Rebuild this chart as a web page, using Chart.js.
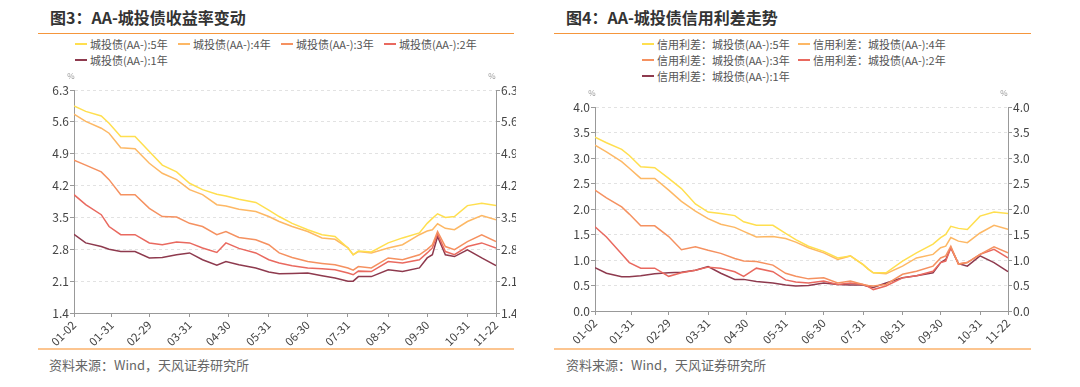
<!DOCTYPE html>
<html>
<head>
<meta charset="utf-8">
<script src="https://cdn.jsdelivr.net/npm/chart.js@4/dist/chart.umd.min.js"></script>
<style>
    body {margin: 0; width: 1080px; height: 387px; background: #fff; position: relative; overflow: hidden;
        font-family: "Noto Sans CJK SC", "Noto Sans", sans-serif;}
    .title {position: absolute; top: 6px; font-size: 16px; font-weight: bold; color: #333; line-height: 22px; white-space: nowrap;}
    .rule-top {position: absolute; top: 33px; height: 0; border-top: 1.5px solid #F5963C;}
    .rule-bottom {position: absolute; top: 348px; height: 0; border-top: 2px solid #FCC590;}
    .source {position: absolute; top: 355px; font-size: 13px; color: #666; line-height: 20px; white-space: nowrap;}
    .legend {position: absolute; top: 36px; display: flex; flex-wrap: wrap; font-size: 11px; color: #555;}
    .legend .item {display: flex; align-items: center; height: 16px; white-space: nowrap;}
    .legend .swatch {width: 12px; height: 2px; margin-right: 3px;}
    .box {position: absolute;}
</style>
</head>
<body>
<div class="title" style="left:50px">图3：AA-城投债收益率变动</div>
<div class="rule-top" style="left:38px; width:476px"></div>
<div class="legend" id="legend1" style="left:75px; width:420px"></div>
<div class="box" style="left:38px; top:66px"><canvas id="chart1" width="478" height="280"></canvas></div>
<div class="rule-bottom" style="left:38px; width:476px"></div>
<div class="source" style="left:49px">资料来源：Wind，天风证券研究所</div>

<div class="title" style="left:566px">图4：AA-城投债信用利差走势</div>
<div class="rule-top" style="left:554px; width:477px"></div>
<div class="legend" id="legend2" style="left:642px; width:320px"></div>
<div class="box" style="left:553px; top:84px"><canvas id="chart2" width="478" height="262"></canvas></div>
<div class="rule-bottom" style="left:554px; width:477px"></div>
<div class="source" style="left:566px">资料来源：Wind，天风证券研究所</div>

<script>
// sample dates (2024)
const dates = ['01-02','01-11','01-23','01-29','02-07','02-18','02-29','03-10','03-21','03-31',
    '04-10','04-21','04-28','05-08','05-21','05-31','06-08','06-18','06-30','07-11',
    '07-21','07-31','08-04','08-08','08-18','08-31','09-11','09-24','09-30','10-04',
    '10-08','10-14','10-21','10-31','11-11','11-22']

const xTickLabels = ['01-02','01-31','02-29','03-31','04-30','05-31','06-30','07-31','08-31','09-30','10-31','11-22']
const yieldTicks = [1.4, 2.1, 2.8, 3.5, 4.2, 4.9, 5.6, 6.3]
const spreadTicks = [0, 0.5, 1, 1.5, 2, 2.5, 3, 3.5, 4]

const tenors = ['5年', '4年', '3年', '2年', '1年']
const lineColors = ['#FFDF4F', '#FDB865', '#F59160', '#E9695F', '#8E3A4E']

// 城投债(AA-) 收益率, %
const yield5 = [5.95,5.83,5.73,5.57,5.28,5.28,4.95,4.65,4.50,4.25,4.11,4.01,3.97,3.90,3.83,3.66,3.52,3.37,3.23,3.12,3.08,2.83,2.68,2.76,2.74,2.94,3.05,3.16,3.37,3.48,3.58,3.50,3.52,3.76,3.81,3.76]
const yield4 = [5.77,5.61,5.46,5.35,5.03,5.01,4.69,4.47,4.33,4.11,4.00,3.78,3.75,3.68,3.63,3.52,3.41,3.30,3.19,3.05,3.02,2.83,2.68,2.75,2.72,2.83,2.90,3.12,3.20,3.23,3.36,3.26,3.23,3.41,3.54,3.45]
const yield3 = [4.76,4.65,4.50,4.33,4.00,4.00,3.70,3.52,3.51,3.37,3.30,3.12,3.19,3.06,3.01,2.90,2.72,2.62,2.53,2.49,2.46,2.39,2.34,2.42,2.39,2.61,2.57,2.68,2.80,2.90,3.19,2.86,2.79,2.97,3.12,2.97]
const yield2 = [4.00,3.78,3.56,3.30,3.12,3.12,2.94,2.90,2.96,2.94,2.83,2.73,2.94,2.82,2.72,2.57,2.50,2.44,2.39,2.37,2.35,2.28,2.24,2.32,2.31,2.53,2.50,2.57,2.72,2.83,3.14,2.75,2.68,2.86,2.94,2.83]
const yield1 = [3.13,2.94,2.86,2.80,2.75,2.75,2.61,2.62,2.68,2.72,2.57,2.45,2.53,2.46,2.39,2.30,2.26,2.27,2.28,2.22,2.17,2.10,2.10,2.20,2.20,2.35,2.31,2.39,2.61,2.68,3.08,2.68,2.64,2.79,2.61,2.44]

// 信用利差：城投债(AA-), %
const spread5 = [3.41,3.30,3.17,3.05,2.83,2.81,2.60,2.40,2.10,1.94,1.91,1.87,1.75,1.68,1.68,1.52,1.40,1.27,1.17,1.04,1.08,0.91,0.82,0.75,0.75,0.98,1.14,1.31,1.44,1.50,1.66,1.62,1.60,1.86,1.94,1.91]
const spread4 = [3.25,3.12,2.93,2.80,2.60,2.60,2.37,2.15,1.96,1.81,1.70,1.64,1.56,1.45,1.46,1.42,1.35,1.24,1.14,1.01,1.08,0.91,0.82,0.75,0.73,0.88,1.04,1.11,1.24,1.27,1.44,1.37,1.34,1.53,1.68,1.60]
const spread3 = [2.37,2.22,2.04,1.90,1.67,1.67,1.46,1.20,1.26,1.19,1.13,1.03,0.98,0.97,0.90,0.74,0.68,0.63,0.65,0.55,0.59,0.52,0.50,0.49,0.52,0.72,0.78,0.88,1.04,1.08,1.27,0.92,0.95,1.11,1.26,1.14]
const spread2 = [1.65,1.45,1.12,0.95,0.84,0.84,0.68,0.75,0.80,0.86,0.84,0.77,0.68,0.84,0.77,0.61,0.57,0.55,0.59,0.52,0.55,0.52,0.48,0.42,0.49,0.65,0.69,0.78,0.95,0.98,1.24,0.92,0.95,1.11,1.21,1.04]
const spread1 = [0.85,0.74,0.67,0.67,0.69,0.73,0.75,0.76,0.80,0.87,0.74,0.62,0.62,0.58,0.55,0.51,0.49,0.50,0.55,0.52,0.51,0.51,0.48,0.46,0.55,0.65,0.69,0.75,0.95,1.01,1.24,0.93,0.88,1.08,0.95,0.77]

Chart.defaults.font.family = '"Noto Sans CJK SC", "Noto Sans", sans-serif'
Chart.defaults.color = '#444'

// day offset from 01-02
const dayOf = s => {
    const [m, d] = s.split('-').map(Number)
    return (Date.UTC(2024, m - 1, d) - Date.UTC(2024, 0, 2)) / 864e5
}

// small "%" above both value axes
const unitPlugin = {
    id: 'unit',
    afterDraw(chart) {
        const {ctx, chartArea} = chart
        ctx.save()
        ctx.font = '8px "Noto Sans CJK SC", sans-serif'
        ctx.fillStyle = '#999'
        ctx.textAlign = 'center'
        ctx.fillText('%', chartArea.left - 3, chartArea.top - 11)
        ctx.fillText('%', chartArea.right - 4, chartArea.top - 11)
        ctx.restore()
    }
}

function buildLegend(chart, el, itemWidth) {
    chart.data.datasets.forEach(ds => {
        const item = document.createElement('div')
        item.className = 'item'
        item.style.width = itemWidth + 'px'
        const sw = document.createElement('span')
        sw.className = 'swatch'
        sw.style.background = ds.borderColor
        const tx = document.createElement('span')
        tx.textContent = ds.label
        item.appendChild(sw)
        item.appendChild(tx)
        el.appendChild(item)
    })
}

function makeChart(id, o) {
    const axisTicks = values => s => { s.ticks = values.map(v => ({value: v})) }
    const valueAxis = (pos, width, onArea) => ({
        position: pos,
        min: o.ticks[0],
        max: o.ticks[o.ticks.length - 1],
        afterBuildTicks: axisTicks(o.ticks),
        afterFit: s => { s.width = width },
        ticks: {font: {size: 12}, color: '#444', padding: 1, callback: v => v.toFixed(1)},
        grid: {drawOnChartArea: onArea, color: '#e2e2e2', tickColor: '#999', tickLength: 4},
        border: {color: '#999', dash: onArea ? [3, 3] : []}
    })

    return new Chart(document.getElementById(id), {
        type: 'line',
        data: {
            datasets: o.series.map((vals, i) => ({
                label: o.prefix + tenors[i],
                data: vals.map((v, j) => ({x: dayOf(dates[j]), y: v})),
                borderColor: lineColors[i],
                backgroundColor: lineColors[i],
                borderWidth: 1.5,
                pointRadius: 0,
                tension: 0,
                yAxisID: 'y'
            }))
        },
        options: {
            responsive: false,
            animation: false,
            events: [],
            layout: {padding: {top: o.padTop, left: 0, right: 0, bottom: 0}},
            plugins: {legend: {display: false}, tooltip: {enabled: false}},
            scales: {
                x: {
                    type: 'linear',
                    min: 0,
                    max: dayOf(xTickLabels[xTickLabels.length - 1]),
                    afterBuildTicks: axisTicks(xTickLabels.map(dayOf)),
                    afterFit: s => { s.height = o.bottom },
                    ticks: {autoSkip: false, minRotation: 45, maxRotation: 45, padding: 1,
                        font: {size: 11.5}, color: '#444', callback: (v, i) => xTickLabels[i]},
                    grid: {drawOnChartArea: false, tickColor: '#999', tickLength: 4},
                    border: {color: '#999'}
                },
                y: valueAxis('left', o.leftWidth, true),
                y2: valueAxis('right', o.rightWidth, false)
            }
        },
        plugins: [unitPlugin]
    })
}

const chart1 = makeChart('chart1', {
    series: [yield5, yield4, yield3, yield2, yield1],
    prefix: '城投债(AA-):',
    ticks: yieldTicks,
    padTop: 24, bottom: 33, leftWidth: 36, rightWidth: 20
})
buildLegend(chart1, document.getElementById('legend1'), 103)

const chart2 = makeChart('chart2', {
    series: [spread5, spread4, spread3, spread2, spread1],
    prefix: '信用利差：城投债(AA-):',
    ticks: spreadTicks,
    padTop: 23, bottom: 35, leftWidth: 42, rightWidth: 23
})
buildLegend(chart2, document.getElementById('legend2'), 156)
</script>
</body>
</html>
